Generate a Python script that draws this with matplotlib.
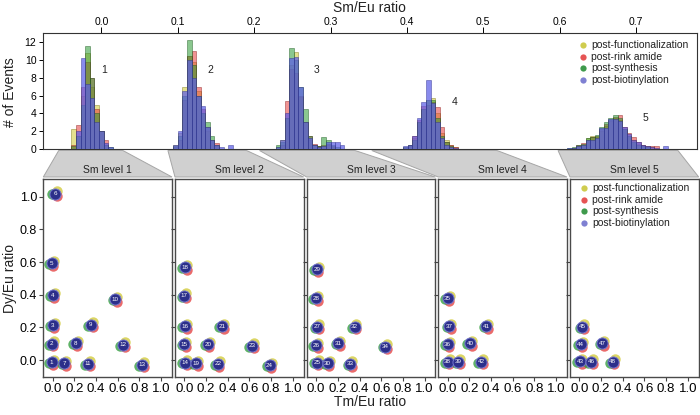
import matplotlib
matplotlib.use('Agg')
import matplotlib.pyplot as plt
import numpy as np
from matplotlib.patches import Polygon
from matplotlib.transforms import ScaledTranslation
from matplotlib.colors import to_rgba

plt.rcParams['font.family'] = ['Liberation Sans', 'DejaVu Sans']

# ---------------- data ----------------
series = ['post-functionalization', 'post-rink amide', 'post-synthesis', 'post-biotinylation']
bin_width = 0.006
peak_starts = [-0.0393, 0.094, 0.228, 0.395, 0.610]
peak_names = ['1', '2', '3', '4', '5']
peak_label_x = [0.003, 0.142, 0.282, 0.463, 0.713]
peak_label_y = [8.9, 8.9, 8.9, 5.3, 3.5]

# counts per bin: functionalization, rink amide, synthesis, biotinylation
p1_func = [2.3, 1.5, 6.0, 10.8, 7.0, 5.0, 2.0, 0.5, 0.0]
p1_rink = [0.5, 2.7, 7.0, 9.8, 8.0, 4.5, 2.0, 1.0, 0.0]
p1_synt = [0.3, 1.5, 5.0, 11.6, 8.0, 4.0, 2.0, 0.5, 0.2]
p1_biot = [0.0, 2.0, 10.2, 7.3, 5.7, 3.0, 2.0, 0.7, 0.2]

p2_func = [0.5, 1.8, 7.0, 10.5, 9.8, 6.5, 4.0, 2.0, 1.0, 0.3, 0.0, 0.0, 0.0]
p2_rink = [0.2, 1.0, 5.5, 10.5, 11.0, 7.0, 4.5, 2.5, 1.0, 0.7, 0.0, 0.0, 0.0]
p2_synt = [0.3, 1.5, 6.0, 12.3, 9.5, 6.0, 4.0, 3.0, 1.5, 0.5, 0.0, 0.0, 0.0]
p2_biot = [0.5, 2.0, 6.5, 10.0, 8.0, 6.0, 4.8, 2.5, 1.0, 0.5, 0.2, 0.0, 0.5]

p3_func = [0.2, 1.0, 3.5, 9.5, 10.9, 5.8, 3.0, 1.0, 0.5, 0.3, 0.3, 0.5, 0.2, 0.0, 0.0]
p3_rink = [0.0, 0.5, 5.4, 9.0, 8.5, 6.0, 3.0, 1.5, 0.6, 0.3, 0.5, 0.6, 0.3, 0.0, 0.0]
p3_synt = [0.4, 0.8, 3.5, 11.4, 10.0, 7.0, 4.5, 1.5, 0.5, 0.3, 1.4, 1.0, 0.5, 0.2, 0.0]
p3_biot = [0.2, 1.0, 4.0, 10.2, 10.4, 7.0, 3.0, 1.2, 0.5, 0.2, 0.3, 0.8, 0.8, 0.8, 0.5]

p4_func = [0.2, 0.3, 1.2, 3.0, 4.5, 5.5, 5.7, 4.0, 1.8, 1.0, 0.5, 0.2, 0.0]
p4_rink = [0.1, 0.5, 1.5, 3.3, 4.8, 5.0, 5.3, 4.7, 2.5, 0.8, 0.5, 0.2, 0.0]
p4_synt = [0.2, 0.4, 1.0, 3.0, 4.5, 5.5, 5.5, 3.5, 1.5, 0.8, 0.3, 0.0, 0.0]
p4_biot = [0.3, 0.5, 1.5, 3.5, 5.3, 7.8, 5.2, 3.0, 1.2, 0.5, 0.2, 0.1, 0.0]

p5_func = [0.0, 0.1, 0.3, 0.5, 1.2, 1.5, 1.4, 2.0, 2.6, 3.2, 3.5, 3.3, 2.3, 1.5, 1.0, 0.6, 0.4, 0.3, 0.2, 0.0, 0.0, 0.0, 0.0]
p5_rink = [0.0, 0.1, 0.4, 0.7, 1.0, 1.3, 1.5, 2.2, 2.8, 3.3, 3.6, 3.8, 2.5, 1.8, 1.3, 0.8, 0.5, 0.3, 0.3, 0.3, 0.0, 0.0, 0.0]
p5_synt = [0.1, 0.2, 0.4, 0.6, 1.2, 1.4, 1.6, 2.5, 3.0, 3.5, 3.8, 3.5, 2.2, 1.5, 0.8, 0.5, 0.3, 0.2, 0.0, 0.0, 0.0, 0.0, 0.0]
p5_biot = [0.1, 0.1, 0.3, 0.5, 1.0, 1.0, 1.2, 2.4, 2.4, 3.4, 3.4, 3.2, 2.5, 1.7, 1.0, 0.8, 0.5, 0.3, 0.2, 0.1, 0.0, 0.3, 0.0]

peaks = [
    [p1_func, p1_rink, p1_synt, p1_biot],
    [p2_func, p2_rink, p2_synt, p2_biot],
    [p3_func, p3_rink, p3_synt, p3_biot],
    [p4_func, p4_rink, p4_synt, p4_biot],
    [p5_func, p5_rink, p5_synt, p5_biot],
]

# gating windows (Sm/Eu) for each Sm level
gate_lo = [-0.056, 0.087, 0.207, 0.354, 0.598]
gate_hi = [0.028, 0.190, 0.332, 0.518, 0.755]
level_names = ['Sm level 1', 'Sm level 2', 'Sm level 3', 'Sm level 4', 'Sm level 5']

# clusters: panel index, Tm/Eu, Dy/Eu, code number
cl_panel = [0]*13 + [1]*11 + [2]*10 + [3]*8 + [4]*6
cl_tm = [-0.01, -0.01, 0.00, 0.00, -0.01, 0.02, 0.107, 0.213, 0.352, 0.577, 0.324, 0.648, 0.824,
         0.005, 0.00, 0.005, 0.00, 0.005, 0.107, 0.215, 0.345, 0.308, 0.623, 0.786,
         0.005, 0.00, 0.01, 0.00, 0.005, 0.107, 0.206, 0.354, 0.314, 0.638,
         0.00, 0.00, 0.015, 0.00, 0.098, 0.206, 0.355, 0.308,
         0.005, 0.012, 0.027, 0.107, 0.212, 0.308]
cl_dy = [-0.012, 0.10, 0.212, 0.396, 0.594, 1.02, -0.02, 0.104, 0.216, 0.373, -0.023, 0.094, -0.029,
         -0.016, 0.096, 0.208, 0.394, 0.568, -0.02, 0.098, 0.208, -0.024, 0.088, -0.031,
         -0.016, 0.378, 0.204, 0.092, 0.557, -0.02, 0.102, 0.204, -0.024, 0.082,
         0.378, 0.098, 0.208, -0.01, -0.01, 0.102, 0.208, -0.01,
         -0.006, 0.098, 0.204, -0.01, 0.102, -0.01]
cl_num = [1, 2, 3, 4, 5, 6, 7, 8, 9, 10, 11, 12, 13,
          14, 15, 16, 17, 18, 19, 20, 21, 22, 23, 24,
          25, 28, 27, 26, 29, 30, 31, 32, 33, 34,
          35, 36, 37, 38, 39, 40, 41, 42,
          43, 44, 45, 46, 47, 48]

hist_xticks = [0.0, 0.1, 0.2, 0.3, 0.4, 0.5, 0.6, 0.7]
hist_yticks = [0, 2, 4, 6, 8, 10, 12]
panel_ticks = [0.0, 0.2, 0.4, 0.6, 0.8, 1.0]

# ---------------- style ----------------
bar_face = ['#cfc832', '#e43a3a', '#2a9a34', '#5c5ee6']
bar_alpha = [0.55, 0.55, 0.55, 0.72]
bar_edge = ['#7a7410', '#8a1a1a', '#16561a', '#2a2c90']
halo_col = ['#cfc832', '#e43a3a', '#2a9a34']
leg_col = ['#cfcc4e', '#e65454', '#3f9a4c', '#7f80d2']

W, H = 700, 415
fig = plt.figure(figsize=(W/100, H/100), dpi=100)


def px_axes(l, t, r, b):
    return fig.add_axes([l/W, 1 - b/H, (r - l)/W, (b - t)/H])


def fx(x):
    return x / W


def fy(y):
    return 1 - y / H


# ---------------- histogram ----------------
ax_h = px_axes(42.7, 33, 697, 149)
for pk, start in zip(peaks, peak_starts):
    for s_i, cnt in enumerate(pk):
        centers = start + bin_width * (np.arange(len(cnt)) + 0.5)
        ax_h.bar(centers, cnt, width=bin_width,
                 color=to_rgba(bar_face[s_i], bar_alpha[s_i]),
                 edgecolor=to_rgba(bar_edge[s_i], 0.6), linewidth=0.5, zorder=2 + s_i)
for name, x, y in zip(peak_names, peak_label_x, peak_label_y):
    ax_h.text(x, y, name, fontsize=7.5, ha='center', va='center', color='#222222')

ax_h.set_xlim(-0.077, 0.78)
ax_h.set_ylim(0, 13.05)
ax_h.set_xticks(hist_xticks)
ax_h.set_xticklabels([f'{v:.1f}' for v in hist_xticks])
ax_h.set_yticks(hist_yticks)
ax_h.tick_params(axis='x', top=True, bottom=False, labeltop=True, labelbottom=False,
                 direction='out', length=4, pad=0.5, labelsize=7.5, width=0.7)
ax_h.tick_params(axis='y', direction='out', length=3, pad=1.5, labelsize=7.5, width=0.7)
for sp in ax_h.spines.values():
    sp.set_linewidth(0.8)
    sp.set_color('#333333')

# histogram legend
for i, (lab, c) in enumerate(zip(series, leg_col)):
    yy = 45 + i * 11.7
    fig.lines.append(plt.Line2D([fx(583)], [fy(yy)], marker='o', markersize=4.5, color=c,
                                markeredgewidth=0, linestyle='none', transform=fig.transFigure))
    fig.text(fx(591), fy(yy), lab, fontsize=7.5, va='center', ha='left', color='#222222')

# ---------------- scatter panels ----------------
panel_lefts = [43.3, 175.0, 306.7, 438.3, 570.0]
panel_w = 128.7
axes_p = []
for p, l in enumerate(panel_lefts):
    ax = px_axes(l, 179.3, l + panel_w, 376.7)
    ax.set_xlim(-0.087, 1.10)
    ax.set_ylim(-0.102, 1.107)
    ax.set_xticks(panel_ticks)
    ax.set_xticklabels([f'{v:.1f}' for v in panel_ticks])
    ax.set_yticks(panel_ticks)
    if p == 0:
        ax.set_yticklabels([f'{v:.1f}' for v in panel_ticks])
    else:
        ax.set_yticklabels([])
    ax.tick_params(direction='out', length=3, pad=1.5, labelsize=9.5, width=0.8,
                   color='#444444')
    ax.tick_params(axis='y', labelsize=9)
    for sp in ax.spines.values():
        sp.set_linewidth(1.0)
        sp.set_color('#4a4a4a')
    axes_p.append(ax)

cl_panel_a = np.array(cl_panel)
cl_tm_a = np.array(cl_tm)
cl_dy_a = np.array(cl_dy)
halo_off = [(1.4, 1.8), (1.2, -1.9), (-1.9, -0.6)]
for p, ax in enumerate(axes_p):
    m = cl_panel_a == p
    xs, ys = cl_tm_a[m], cl_dy_a[m]
    for s_i, (dx, dy) in enumerate(halo_off):
        tr = ax.transData + ScaledTranslation(dx/72, dy/72, fig.dpi_scale_trans)
        ax.plot(xs, ys, 'o', markersize=7.5, color=halo_col[s_i], alpha=0.75,
                markeredgewidth=0, transform=tr, zorder=3 + s_i, clip_on=False)
    ax.plot(xs, ys, 'o', markersize=8, markerfacecolor='#2c2f8a',
            markeredgecolor='#7476cf', markeredgewidth=0.7, zorder=7, clip_on=False)
    for x, y, n in zip(xs, ys, np.array(cl_num)[m]):
        ax.text(x, y, str(n), fontsize=4.5, color='white', ha='center', va='center', zorder=8)

# panel legend (Sm level 5)
for i, (lab, c) in enumerate(zip(series, leg_col)):
    yy = 188 + i * 11.7
    fig.lines.append(plt.Line2D([fx(584)], [fy(yy)], marker='o', markersize=4.5, color=c,
                                markeredgewidth=0, linestyle='none', transform=fig.transFigure))
    fig.text(fx(592), fy(yy), lab, fontsize=7.5, va='center', ha='left', color='#222222')

# ---------------- gating trapezoids ----------------
inv = fig.transFigure.inverted()
for k in range(5):
    xl = inv.transform(ax_h.transData.transform((gate_lo[k], 0)))[0]
    xr = inv.transform(ax_h.transData.transform((gate_hi[k], 0)))[0]
    bl = fx(panel_lefts[k])
    br = fx(panel_lefts[k] + panel_w)
    poly = Polygon([(xl, fy(150.5)), (xr, fy(150.5)), (br, fy(177)), (bl, fy(177))],
                   closed=True, transform=fig.transFigure, facecolor='#d0d0d0',
                   edgecolor='#a6a6a6', linewidth=0.7)
    fig.patches.append(poly)
    fig.text((bl + br) / 2, fy(169.5), level_names[k], fontsize=7.5, ha='center',
             va='center', color='#222222')

# ---------------- axis titles ----------------
fig.text(fx(369), fy(8), 'Sm/Eu ratio', fontsize=10, ha='center', va='center', color='#222222')
fig.text(fx(10), fy(92), '# of Events', fontsize=10, ha='center', va='center',
         rotation=90, color='#222222')
fig.text(fx(10), fy(278), 'Dy/Eu ratio', fontsize=10, ha='center', va='center',
         rotation=90, color='#222222')
fig.text(fx(370), fy(402), 'Tm/Eu ratio', fontsize=10, ha='center', va='center', color='#222222')

fig.savefig('out.png', dpi=100)
